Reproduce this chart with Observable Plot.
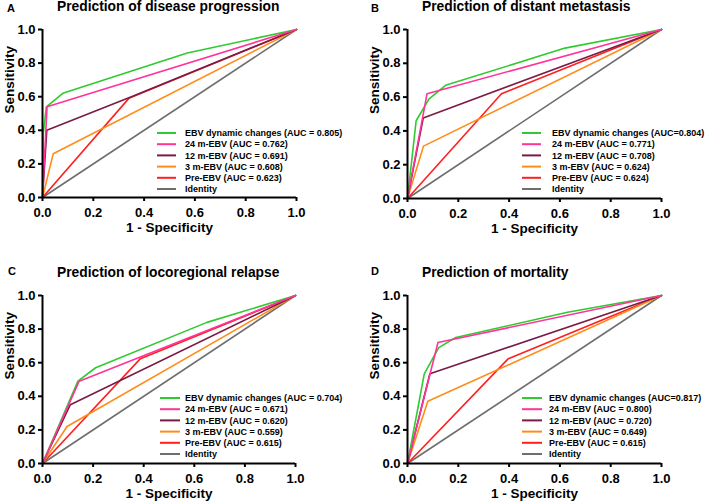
<!DOCTYPE html>
<html>
<head>
<meta charset="utf-8">
<script src="https://cdn.jsdelivr.net/npm/d3@7"></script>
<script src="https://cdn.jsdelivr.net/npm/@observablehq/plot@0.6"></script>
<style>
  body { margin: 0; background: #fff; }
  #wrap { position: relative; width: 709px; height: 504px; overflow: hidden; background: #fff; }
  .panel { position: absolute; }
</style>
</head>
<body>
<div id="wrap"></div>
<script>
const FONT = '"Liberation Sans", Arial, Helvetica, sans-serif';

// ---- data ----
const seriesNames = ["EBV dynamic changes", "24 m-EBV", "12 m-EBV", "3 m-EBV", "Pre-EBV", "Identity"];
const seriesColors = ["#2fca2f", "#ff3399", "#7a1a45", "#ff8c1a", "#ff1f1f", "#6e6e6e"];
const drawOrder = [5, 4, 3, 2, 0, 1];
const axisTicks = [0, 0.2, 0.4, 0.6, 0.8, 1.0];
const xLabel = "1 - Specificity";
const yLabel = "Sensitivity";
const panelLetters = ["A", "B", "C", "D"];
const panelTitles = [
  "Prediction of disease progression",
  "Prediction of distant metastasis",
  "Prediction of locoregional relapse",
  "Prediction of mortality"
];
const aucA = ["(AUC = 0.805)", "(AUC = 0.762)", "(AUC = 0.691)", "(AUC = 0.608)", "(AUC = 0.623)", ""];
const aucB = ["(AUC=0.804)", "(AUC = 0.771)", "(AUC = 0.708)", "(AUC = 0.624)", "(AUC = 0.624)", ""];
const aucC = ["(AUC = 0.704)", "(AUC = 0.671)", "(AUC = 0.620)", "(AUC = 0.559)", "(AUC = 0.615)", ""];
const aucD = ["(AUC=0.817)", "(AUC = 0.800)", "(AUC = 0.720)", "(AUC = 0.649)", "(AUC = 0.615)", ""];

// ROC points [1 - specificity, sensitivity], in seriesNames order
const curvesA = [
  [[0, 0], [0.003, 0.38], [0.015, 0.54], [0.08, 0.62], [0.57, 0.86], [1, 1]],
  [[0, 0], [0.018, 0.54], [1, 1]],
  [[0, 0], [0.017, 0.40], [0.35, 0.60], [1, 1]],
  [[0, 0], [0.042, 0.26], [1, 1]],
  [[0, 0], [0.34, 0.59], [1, 1]],
  [[0, 0], [1, 1]]
];
const curvesB = [
  [[0, 0], [0.034, 0.46], [0.085, 0.59], [0.15, 0.67], [0.62, 0.89], [1, 1]],
  [[0, 0], [0.077, 0.62], [1, 1]],
  [[0, 0], [0.062, 0.477], [1, 1]],
  [[0, 0], [0.063, 0.31], [1, 1]],
  [[0, 0], [0.37, 0.62], [1, 1]],
  [[0, 0], [1, 1]]
];
const curvesC = [
  [[0, 0], [0.14, 0.49], [0.21, 0.57], [0.65, 0.84], [1, 1]],
  [[0, 0], [0.145, 0.49], [1, 1]],
  [[0, 0], [0.11, 0.35], [1, 1]],
  [[0, 0], [0.097, 0.22], [1, 1]],
  [[0, 0], [0.387, 0.624], [1, 1]],
  [[0, 0], [1, 1]]
];
const curvesD = [
  [[0, 0], [0.066, 0.534], [0.123, 0.69], [0.19, 0.75], [0.63, 0.90], [1, 1]],
  [[0, 0], [0.12, 0.72], [1, 1]],
  [[0, 0], [0.088, 0.534], [1, 1]],
  [[0, 0], [0.08, 0.37], [1, 1]],
  [[0, 0], [0.397, 0.624], [1, 1]],
  [[0, 0], [1, 1]]
];

// ---- layout (pixels) ----
const panels = [
  {left: 0,   top: 0,   w: 354, ml: 42, mr: 58, mt: 29, mb: 55, curves: curvesA, auc: aucA,
   letterX: 7, letterY: 12, titleX: 57, titleY: 11, legLine: [157, 176], legText: 185, legY: 133},
  {left: 354, top: 0,   w: 355, ml: 53, mr: 48, mt: 29, mb: 54, curves: curvesB, auc: aucB,
   letterX: 17, letterY: 12, titleX: 68, titleY: 11, legLine: [168, 187], legText: 198, legY: 133},
  {left: 0,   top: 252, w: 354, ml: 42, mr: 59, mt: 43, mb: 41, curves: curvesC, auc: aucC,
   letterX: 8, letterY: 23, titleX: 57, titleY: 25, legLine: [160, 180], legText: 185, legY: 146},
  {left: 354, top: 252, w: 355, ml: 53, mr: 48, mt: 43, mb: 41, curves: curvesD, auc: aucD,
   letterX: 17, letterY: 23, titleX: 68, titleY: 25, legLine: [168, 188], legText: 195, legY: 146}
];

const wrap = document.getElementById("wrap");
const fmt = d3.format(".1f");

panels.forEach((p, k) => {
  const rows = [];
  drawOrder.forEach(si => {
    p.curves[si].forEach(([fpr, tpr]) => rows.push({series: seriesNames[si], fpr, tpr}));
  });

  const plot = Plot.plot({
    width: p.w,
    height: 252,
    marginLeft: p.ml, marginRight: p.mr, marginTop: p.mt, marginBottom: p.mb,
    style: {fontFamily: FONT, fontSize: "13px", fontWeight: "bold", color: "#000", background: "transparent", overflow: "visible"},
    x: {domain: [0, 1]},
    y: {domain: [0, 1]},
    color: {domain: seriesNames, range: seriesColors},
    marks: [
      Plot.line(rows, {x: "fpr", y: "tpr", z: "series", stroke: "series", strokeWidth: 1.6}),
      Plot.ruleX([0], {stroke: "#000", strokeWidth: 2}),
      Plot.ruleY([0], {stroke: "#000", strokeWidth: 2}),
      Plot.axisX({ticks: axisTicks, tickFormat: fmt, tickSize: 4, tickPadding: 6, strokeWidth: 2, label: null}),
      Plot.axisY({ticks: axisTicks, tickFormat: fmt, tickSize: 4, tickPadding: 3, strokeWidth: 2, label: null}),
      Plot.text([xLabel], {text: d => d, frameAnchor: "bottom", dy: 34, fontSize: 13.5, fontWeight: "bold", fill: "#000"}),
      Plot.text([yLabel], {text: d => d, frameAnchor: "left", dx: -33, rotate: -90, fontSize: 13.5, fontWeight: "bold", fill: "#000"})
    ]
  });

  const svg = d3.select(plot);
  svg.append("text")
    .attr("x", p.letterX).attr("y", p.letterY)
    .attr("text-anchor", "start")
    .attr("font-size", 11).attr("font-weight", "bold").attr("fill", "#000")
    .text(panelLetters[k]);
  svg.append("text")
    .attr("x", p.titleX).attr("y", p.titleY)
    .attr("text-anchor", "start")
    .attr("font-size", 13.8).attr("font-weight", "bold").attr("fill", "#000")
    .text(panelTitles[k]);

  const leg = svg.append("g").attr("text-anchor", "start");
  seriesNames.forEach((name, i) => {
    const y = p.legY + i * 11.2;
    leg.append("line")
      .attr("x1", p.legLine[0]).attr("x2", p.legLine[1])
      .attr("y1", y).attr("y2", y)
      .attr("stroke", seriesColors[i]).attr("stroke-width", 2);
    leg.append("text")
      .attr("x", p.legText).attr("y", y)
      .attr("dy", "0.35em")
      .attr("font-size", 9).attr("font-weight", "bold").attr("fill", "#000")
      .text(p.auc[i] ? name + " " + p.auc[i] : name);
  });

  const div = document.createElement("div");
  div.className = "panel";
  div.style.left = p.left + "px";
  div.style.top = p.top + "px";
  div.appendChild(plot);
  wrap.appendChild(div);
});
</script>
</body>
</html>
